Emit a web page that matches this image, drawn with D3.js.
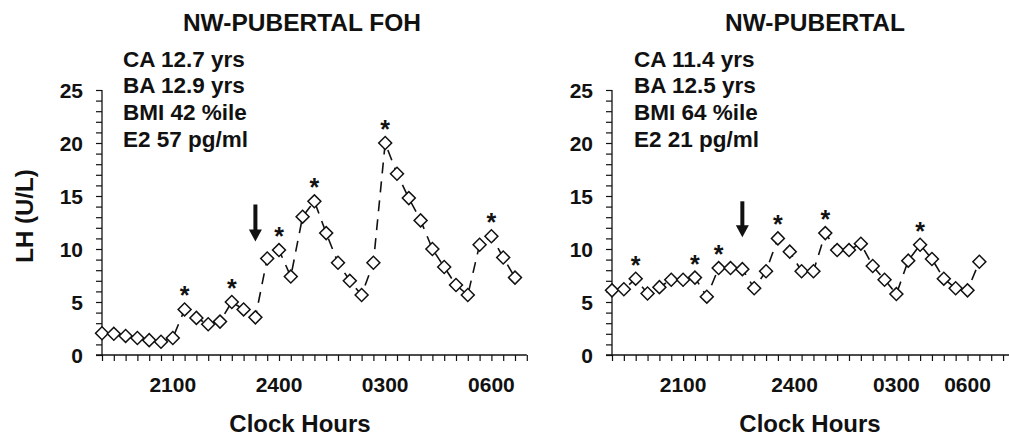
<!DOCTYPE html>
<html>
<head>
<meta charset="utf-8">
<script src="https://cdn.jsdelivr.net/npm/d3@7"></script>
<style>
  html, body { margin: 0; padding: 0; background: #fff; }
  text { font-family: "Liberation Sans", Arial, sans-serif; font-weight: bold; fill: #111; }
</style>
</head>
<body>
<svg id="chart" width="1009" height="441"></svg>
<script>
// ---- data ----
const leftTitle = "NW-PUBERTAL FOH";
const rightTitle = "NW-PUBERTAL";
const leftInfo = ["CA 12.7 yrs", "BA 12.9 yrs", "BMI 42 %ile", "E2 57 pg/ml"];
const rightInfo = ["CA 11.4 yrs", "BA 12.5 yrs", "BMI 64 %ile", "E2 21 pg/ml"];

// LH (U/L), one sample every 20 min
const leftLH = [2.05, 2.0, 1.8, 1.6, 1.4, 1.25, 1.6, 4.3, 3.5, 2.9, 3.15, 5.0, 4.3, 3.55,
  9.1, 9.9, 7.4, 13.05, 14.5, 11.5, 8.7, 7.0, 5.66, 8.7, 20.0, 17.1, 14.8, 12.7,
  10.0, 8.3, 6.6, 5.66, 10.4, 11.2, 9.2, 7.3];
const rightLH = [6.1, 6.2, 7.2, 5.8, 6.4, 7.1, 7.1, 7.3, 5.5, 8.2, 8.2, 8.1, 6.3, 7.9,
  11.0, 9.75, 7.9, 7.9, 11.5, 9.9, 9.9, 10.5, 8.4, 7.1, 5.75, 8.9, 10.4, 9.06,
  7.2, 6.3, 6.1, 8.8];

const leftPeaks = [7, 11, 15, 18, 24, 33];
const rightPeaks = [2, 7, 9, 14, 18, 26];

// arrow: [sample index, LH at tail, LH at tip]
const leftArrow = [13, 14.2, 10.7];
const rightArrow = [11, 14.5, 11.1];

const yTicks = [0, 5, 10, 15, 20, 25];
const xTickLabels = ["2100", "2400", "0300", "0600"];
const leftXTickIdx = [6, 15, 24, 33];
const rightXTickIdx = [6, 15.4, 24, 30];
const leftSlots = 36;
const rightSlots = 34;

// ---- drawing ----
const svg = d3.select("#chart");

function panel(opt) {
  const g = svg.append("g");
  const x = d3.scaleLinear().domain([0, opt.slots]).range([opt.x0, opt.x0 + opt.slots * opt.step]);
  const y = d3.scaleLinear().domain([0, 25]).range([355, 90]);

  // y axis with minor ticks every unit
  const yAxis = d3.axisLeft(y).tickValues(d3.range(0, 26, 1)).tickSize(6).tickFormat("");
  const ya = g.append("g").attr("transform", `translate(${opt.x0},0)`).call(yAxis);
  ya.select(".domain").attr("stroke", "#111").attr("stroke-width", 1.3).attr("d", `M-0,${y(0)}V${y(25)}`);
  ya.selectAll(".tick line").attr("stroke", "#111").attr("stroke-width", 1.2);

  g.selectAll(".ylab").data(yTicks).join("text")
    .attr("x", opt.x0 - 19).attr("y", d => y(d)).attr("dy", "0.36em")
    .attr("text-anchor", "end").attr("font-size", 21).text(d => d);

  // x axis with minor ticks each sample
  const xAxis = d3.axisBottom(x).tickValues(d3.range(0, opt.slots + 1)).tickSize(6).tickFormat("");
  const xa = g.append("g").attr("transform", `translate(0,${y(0)})`).call(xAxis);
  xa.select(".domain").attr("stroke", "#111").attr("stroke-width", 1.3)
    .attr("d", `M${opt.x0 - 6},0H${x(opt.slots)}`);
  xa.selectAll(".tick line").attr("stroke", "#111").attr("stroke-width", 1.2);

  g.selectAll(".xlab").data(opt.xIdx).join("text")
    .attr("x", d => x(d)).attr("y", 392).attr("text-anchor", "middle")
    .attr("font-size", 21).text((d, i) => xTickLabels[i]);

  g.append("text").attr("x", opt.xTitle).attr("y", 432).attr("text-anchor", "middle")
    .attr("font-size", 24).text("Clock Hours");

  // title & info
  g.append("text").attr("x", opt.titleX).attr("y", 31).attr("text-anchor", "middle")
    .attr("font-size", 24.5).text(opt.title);
  g.selectAll(".info").data(opt.info).join("text")
    .attr("x", opt.infoX).attr("y", (d, i) => 66.5 + i * 26.7)
    .attr("font-size", 22.5).text(d => d);

  // dashed line
  const line = d3.line().x((d, i) => x(i)).y(d => y(d));
  g.append("path").datum(opt.lh).attr("d", line)
    .attr("fill", "none").attr("stroke", "#111").attr("stroke-width", 1.6)
    .attr("stroke-dasharray", "11,8");

  // diamonds
  const sym = d3.symbol().type(d3.symbolSquare).size(84);
  g.selectAll(".pt").data(opt.lh).join("path")
    .attr("d", sym)
    .attr("transform", (d, i) => `translate(${x(i)},${y(d)}) rotate(45)`)
    .attr("fill", "#fff").attr("stroke", "#111").attr("stroke-width", 1.5);

  // peak stars
  g.selectAll(".star").data(opt.peaks).join("text")
    .attr("x", i => x(i)).attr("y", i => y(opt.lh[i]) - 5)
    .attr("text-anchor", "middle").attr("font-size", 25).text("*");

  // arrow
  const [ai, a0, a1] = opt.arrow;
  const ax = x(ai), yt = y(a0), yp = y(a1);
  g.append("rect").attr("x", ax - 2).attr("y", yt).attr("width", 4).attr("height", yp - yt - 10).attr("fill", "#111");
  g.append("path").attr("d", `M${ax - 6.5},${yp - 12}L${ax + 6.5},${yp - 12}L${ax},${yp}Z`).attr("fill", "#111");
}

panel({ x0: 102, step: 11.8, slots: leftSlots, lh: leftLH, peaks: leftPeaks, arrow: leftArrow,
  xIdx: leftXTickIdx, title: leftTitle, titleX: 302, info: leftInfo, infoX: 123, xTitle: 300 });
panel({ x0: 612, step: 11.85, slots: rightSlots, lh: rightLH, peaks: rightPeaks, arrow: rightArrow,
  xIdx: rightXTickIdx, title: rightTitle, titleX: 815, info: rightInfo, infoX: 634, xTitle: 810 });

// y axis title (left panel only)
svg.append("text").attr("transform", "translate(33,216) rotate(-90)")
  .attr("text-anchor", "middle").attr("font-size", 24).text("LH (U/L)");
</script>
</body>
</html>
